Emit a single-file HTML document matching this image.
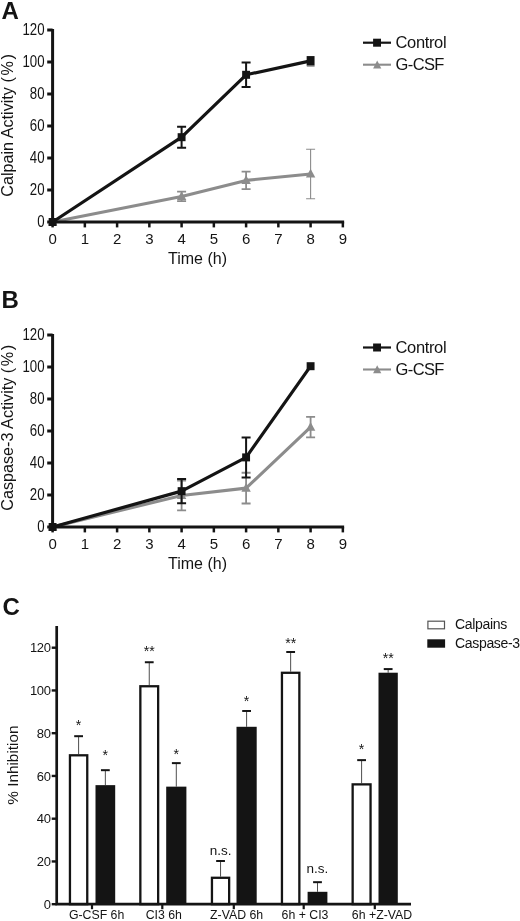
<!DOCTYPE html>
<html><head><meta charset="utf-8"><title>Figure</title>
<style>html,body{margin:0;padding:0;background:#fff}body{width:520px;height:921px;overflow:hidden;font-family:"Liberation Sans",sans-serif}svg{display:block;filter:blur(0.42px)}</style>
</head><body>
<svg width="520" height="921" viewBox="0 0 520 921">
<rect width="520" height="921" fill="#fff"/>
<text x="1.5" y="19" font-size="24" font-weight="bold" font-family="Liberation Sans, sans-serif" fill="#141414">A</text>
<polyline points="52.60,222.00 181.60,196.40 246.10,180.40 310.60,174.00" fill="none" stroke="#8c8c8c" stroke-width="3.1" stroke-linejoin="round"/>
<path d="M52.60 216.80L57.30 225.60H47.90Z" fill="#8c8c8c"/>
<path d="M181.60 191.60V201.20M177.10 191.60h9M177.10 201.20h9" stroke="#8c8c8c" stroke-width="1.8" fill="none"/>
<path d="M181.60 191.20L186.30 200.00H176.90Z" fill="#8c8c8c"/>
<path d="M246.10 171.60V189.20M241.60 171.60h9M241.60 189.20h9" stroke="#8c8c8c" stroke-width="1.8" fill="none"/>
<path d="M246.10 175.20L250.80 184.00H241.40Z" fill="#8c8c8c"/>
<path d="M310.60 149.20V198.80M306.10 149.20h9M306.10 198.80h9" stroke="#8c8c8c" stroke-width="1.1" fill="none"/>
<path d="M310.60 168.80L315.30 177.60H305.90Z" fill="#8c8c8c"/>
<polyline points="52.60,222.00 181.60,137.20 246.10,74.80 310.60,60.88" fill="none" stroke="#141414" stroke-width="3.2" stroke-linejoin="round"/>
<rect x="48.65" y="218.00" width="7.9" height="8" fill="#141414"/>
<path d="M181.60 126.64V147.76M177.10 126.64h9M177.10 147.76h9" stroke="#141414" stroke-width="2.0" fill="none"/>
<rect x="177.65" y="133.20" width="7.9" height="8" fill="#141414"/>
<path d="M246.10 62.48V87.12M241.60 62.48h9M241.60 87.12h9" stroke="#141414" stroke-width="2.0" fill="none"/>
<rect x="242.15" y="70.80" width="7.9" height="8" fill="#141414"/>
<rect x="306.65" y="56.08" width="7.9" height="9.6" fill="#141414"/>
<path d="M52.6 29.0V222H344.15" fill="none" stroke="#141414" stroke-width="3"/>
<path d="M47.20 222.0H52.6" stroke="#141414" stroke-width="3"/>
<text transform="translate(44.50,226.50) scale(0.85,1)" font-size="15.6" text-anchor="end" font-family="Liberation Sans, sans-serif" fill="#141414">0</text>
<path d="M47.20 190.0H52.6" stroke="#141414" stroke-width="3"/>
<text transform="translate(44.50,194.50) scale(0.85,1)" font-size="15.6" text-anchor="end" font-family="Liberation Sans, sans-serif" fill="#141414">20</text>
<path d="M47.20 158.0H52.6" stroke="#141414" stroke-width="3"/>
<text transform="translate(44.50,162.50) scale(0.85,1)" font-size="15.6" text-anchor="end" font-family="Liberation Sans, sans-serif" fill="#141414">40</text>
<path d="M47.20 126.0H52.6" stroke="#141414" stroke-width="3"/>
<text transform="translate(44.50,130.50) scale(0.85,1)" font-size="15.6" text-anchor="end" font-family="Liberation Sans, sans-serif" fill="#141414">60</text>
<path d="M47.20 94.0H52.6" stroke="#141414" stroke-width="3"/>
<text transform="translate(44.50,98.50) scale(0.85,1)" font-size="15.6" text-anchor="end" font-family="Liberation Sans, sans-serif" fill="#141414">80</text>
<path d="M47.20 62.0H52.6" stroke="#141414" stroke-width="3"/>
<text transform="translate(44.50,66.50) scale(0.85,1)" font-size="15.6" text-anchor="end" font-family="Liberation Sans, sans-serif" fill="#141414">100</text>
<path d="M47.20 30.0H52.6" stroke="#141414" stroke-width="3"/>
<text transform="translate(44.50,34.50) scale(0.85,1)" font-size="15.6" text-anchor="end" font-family="Liberation Sans, sans-serif" fill="#141414">120</text>
<path d="M52.60 222V227.4" stroke="#141414" stroke-width="2.5"/>
<text x="52.60" y="243.8" font-size="15" text-anchor="middle" font-family="Liberation Sans, sans-serif" fill="#141414">0</text>
<path d="M84.85 222V227.4" stroke="#141414" stroke-width="2.5"/>
<text x="84.85" y="243.8" font-size="15" text-anchor="middle" font-family="Liberation Sans, sans-serif" fill="#141414">1</text>
<path d="M117.10 222V227.4" stroke="#141414" stroke-width="2.5"/>
<text x="117.10" y="243.8" font-size="15" text-anchor="middle" font-family="Liberation Sans, sans-serif" fill="#141414">2</text>
<path d="M149.35 222V227.4" stroke="#141414" stroke-width="2.5"/>
<text x="149.35" y="243.8" font-size="15" text-anchor="middle" font-family="Liberation Sans, sans-serif" fill="#141414">3</text>
<path d="M181.60 222V227.4" stroke="#141414" stroke-width="2.5"/>
<text x="181.60" y="243.8" font-size="15" text-anchor="middle" font-family="Liberation Sans, sans-serif" fill="#141414">4</text>
<path d="M213.85 222V227.4" stroke="#141414" stroke-width="2.5"/>
<text x="213.85" y="243.8" font-size="15" text-anchor="middle" font-family="Liberation Sans, sans-serif" fill="#141414">5</text>
<path d="M246.10 222V227.4" stroke="#141414" stroke-width="2.5"/>
<text x="246.10" y="243.8" font-size="15" text-anchor="middle" font-family="Liberation Sans, sans-serif" fill="#141414">6</text>
<path d="M278.35 222V227.4" stroke="#141414" stroke-width="2.5"/>
<text x="278.35" y="243.8" font-size="15" text-anchor="middle" font-family="Liberation Sans, sans-serif" fill="#141414">7</text>
<path d="M310.60 222V227.4" stroke="#141414" stroke-width="2.5"/>
<text x="310.60" y="243.8" font-size="15" text-anchor="middle" font-family="Liberation Sans, sans-serif" fill="#141414">8</text>
<path d="M342.85 222V227.4" stroke="#141414" stroke-width="2.5"/>
<text x="342.85" y="243.8" font-size="15" text-anchor="middle" font-family="Liberation Sans, sans-serif" fill="#141414">9</text>
<text x="197.5" y="264.2" font-size="16" text-anchor="middle" font-family="Liberation Sans, sans-serif" fill="#141414">Time (h)</text>
<text transform="translate(13,196.8) rotate(-90)" font-size="16.2" font-family="Liberation Sans, sans-serif" fill="#141414">Calpain Activity <tspan letter-spacing="1.6">(%)</tspan></text>
<path d="M363 42.7H391" stroke="#141414" stroke-width="2.2"/><rect x="373.1" y="38.70" width="7.9" height="8" fill="#141414"/>
<text x="395.5" y="48.30" font-size="16.5" letter-spacing="-0.35" font-family="Liberation Sans, sans-serif" fill="#141414">Control</text>
<path d="M363 64.7H391" stroke="#8c8c8c" stroke-width="2.1"/><path d="M377.2 60.50L381.3 68.50H373.1Z" fill="#8c8c8c"/>
<text x="395.5" y="70.20" font-size="16.5" letter-spacing="-0.6" font-family="Liberation Sans, sans-serif" fill="#141414">G-CSF</text>
<path d="M306.8 66.3H314.6" stroke="#999" stroke-width="1.1"/>
<text x="1.5" y="308" font-size="24" font-weight="bold" font-family="Liberation Sans, sans-serif" fill="#141414">B</text>
<polyline points="52.60,527.00 181.60,495.48 246.10,488.12 310.60,427.16" fill="none" stroke="#8c8c8c" stroke-width="3.1" stroke-linejoin="round"/>
<path d="M52.60 521.80L57.30 530.60H47.90Z" fill="#8c8c8c"/>
<path d="M181.60 480.60V510.36M177.10 480.60h9M177.10 510.36h9" stroke="#8c8c8c" stroke-width="1.8" fill="none"/>
<path d="M181.60 490.28L186.30 499.08H176.90Z" fill="#8c8c8c"/>
<path d="M246.10 472.76V503.48M241.60 472.76h9M241.60 503.48h9" stroke="#8c8c8c" stroke-width="1.8" fill="none"/>
<path d="M246.10 482.92L250.80 491.72H241.40Z" fill="#8c8c8c"/>
<path d="M310.60 416.92V437.40M306.10 416.92h9M306.10 437.40h9" stroke="#8c8c8c" stroke-width="1.8" fill="none"/>
<path d="M310.60 421.96L315.30 430.76H305.90Z" fill="#8c8c8c"/>
<polyline points="52.60,527.00 181.60,491.16 246.10,457.40 310.60,366.20" fill="none" stroke="#141414" stroke-width="3.2" stroke-linejoin="round"/>
<rect x="48.65" y="523.00" width="7.9" height="8" fill="#141414"/>
<path d="M181.60 479.00V503.32M177.10 479.00h9M177.10 503.32h9" stroke="#141414" stroke-width="2.0" fill="none"/>
<rect x="177.65" y="487.16" width="7.9" height="8" fill="#141414"/>
<path d="M246.10 437.40V477.40M241.60 437.40h9M241.60 477.40h9" stroke="#141414" stroke-width="2.0" fill="none"/>
<rect x="242.15" y="453.40" width="7.9" height="8" fill="#141414"/>
<rect x="306.65" y="362.20" width="7.9" height="8" fill="#141414"/>
<path d="M52.6 334.0V527H344.15" fill="none" stroke="#141414" stroke-width="3"/>
<path d="M47.20 527.0H52.6" stroke="#141414" stroke-width="3"/>
<text transform="translate(44.50,531.50) scale(0.85,1)" font-size="15.6" text-anchor="end" font-family="Liberation Sans, sans-serif" fill="#141414">0</text>
<path d="M47.20 495.0H52.6" stroke="#141414" stroke-width="3"/>
<text transform="translate(44.50,499.50) scale(0.85,1)" font-size="15.6" text-anchor="end" font-family="Liberation Sans, sans-serif" fill="#141414">20</text>
<path d="M47.20 463.0H52.6" stroke="#141414" stroke-width="3"/>
<text transform="translate(44.50,467.50) scale(0.85,1)" font-size="15.6" text-anchor="end" font-family="Liberation Sans, sans-serif" fill="#141414">40</text>
<path d="M47.20 431.0H52.6" stroke="#141414" stroke-width="3"/>
<text transform="translate(44.50,435.50) scale(0.85,1)" font-size="15.6" text-anchor="end" font-family="Liberation Sans, sans-serif" fill="#141414">60</text>
<path d="M47.20 399.0H52.6" stroke="#141414" stroke-width="3"/>
<text transform="translate(44.50,403.50) scale(0.85,1)" font-size="15.6" text-anchor="end" font-family="Liberation Sans, sans-serif" fill="#141414">80</text>
<path d="M47.20 367.0H52.6" stroke="#141414" stroke-width="3"/>
<text transform="translate(44.50,371.50) scale(0.85,1)" font-size="15.6" text-anchor="end" font-family="Liberation Sans, sans-serif" fill="#141414">100</text>
<path d="M47.20 335.0H52.6" stroke="#141414" stroke-width="3"/>
<text transform="translate(44.50,339.50) scale(0.85,1)" font-size="15.6" text-anchor="end" font-family="Liberation Sans, sans-serif" fill="#141414">120</text>
<path d="M52.60 527V532.4" stroke="#141414" stroke-width="2.5"/>
<text x="52.60" y="548.8" font-size="15" text-anchor="middle" font-family="Liberation Sans, sans-serif" fill="#141414">0</text>
<path d="M84.85 527V532.4" stroke="#141414" stroke-width="2.5"/>
<text x="84.85" y="548.8" font-size="15" text-anchor="middle" font-family="Liberation Sans, sans-serif" fill="#141414">1</text>
<path d="M117.10 527V532.4" stroke="#141414" stroke-width="2.5"/>
<text x="117.10" y="548.8" font-size="15" text-anchor="middle" font-family="Liberation Sans, sans-serif" fill="#141414">2</text>
<path d="M149.35 527V532.4" stroke="#141414" stroke-width="2.5"/>
<text x="149.35" y="548.8" font-size="15" text-anchor="middle" font-family="Liberation Sans, sans-serif" fill="#141414">3</text>
<path d="M181.60 527V532.4" stroke="#141414" stroke-width="2.5"/>
<text x="181.60" y="548.8" font-size="15" text-anchor="middle" font-family="Liberation Sans, sans-serif" fill="#141414">4</text>
<path d="M213.85 527V532.4" stroke="#141414" stroke-width="2.5"/>
<text x="213.85" y="548.8" font-size="15" text-anchor="middle" font-family="Liberation Sans, sans-serif" fill="#141414">5</text>
<path d="M246.10 527V532.4" stroke="#141414" stroke-width="2.5"/>
<text x="246.10" y="548.8" font-size="15" text-anchor="middle" font-family="Liberation Sans, sans-serif" fill="#141414">6</text>
<path d="M278.35 527V532.4" stroke="#141414" stroke-width="2.5"/>
<text x="278.35" y="548.8" font-size="15" text-anchor="middle" font-family="Liberation Sans, sans-serif" fill="#141414">7</text>
<path d="M310.60 527V532.4" stroke="#141414" stroke-width="2.5"/>
<text x="310.60" y="548.8" font-size="15" text-anchor="middle" font-family="Liberation Sans, sans-serif" fill="#141414">8</text>
<path d="M342.85 527V532.4" stroke="#141414" stroke-width="2.5"/>
<text x="342.85" y="548.8" font-size="15" text-anchor="middle" font-family="Liberation Sans, sans-serif" fill="#141414">9</text>
<text x="197.5" y="569.2" font-size="16" text-anchor="middle" font-family="Liberation Sans, sans-serif" fill="#141414">Time (h)</text>
<text transform="translate(13,510.8) rotate(-90)" font-size="16.2" font-family="Liberation Sans, sans-serif" fill="#141414">Caspase-3 Activity <tspan letter-spacing="1.6">(%)</tspan></text>
<path d="M363 347.5H391" stroke="#141414" stroke-width="2.2"/><rect x="373.1" y="343.50" width="7.9" height="8" fill="#141414"/>
<text x="395.5" y="353.10" font-size="16.5" letter-spacing="-0.35" font-family="Liberation Sans, sans-serif" fill="#141414">Control</text>
<path d="M363 369.5H391" stroke="#8c8c8c" stroke-width="2.1"/><path d="M377.2 365.30L381.3 373.30H373.1Z" fill="#8c8c8c"/>
<text x="395.5" y="375.00" font-size="16.5" letter-spacing="-0.6" font-family="Liberation Sans, sans-serif" fill="#141414">G-CSF</text>
<text x="2.5" y="614.7" font-size="24" font-weight="bold" font-family="Liberation Sans, sans-serif" fill="#141414">C</text>
<path d="M78.60 754.15V736.19" stroke="#444" stroke-width="0.95" fill="none"/>
<path d="M74.20 736.19h8.8" stroke="#141414" stroke-width="2" fill="none"/>
<rect x="69.95" y="755.30" width="17.30" height="148.90" fill="#fff" stroke="#141414" stroke-width="2.3"/>
<text x="78.60" y="729.8" font-size="14.2" text-anchor="middle" font-family="Liberation Sans, sans-serif" fill="#141414">*</text>
<path d="M105.35 785.14V770.18" stroke="#444" stroke-width="0.95" fill="none"/>
<path d="M100.95 770.18h8.8" stroke="#141414" stroke-width="2" fill="none"/>
<rect x="95.50" y="785.14" width="19.70" height="119.06" fill="#141414"/>
<text x="105.35" y="760.3" font-size="14.2" text-anchor="middle" font-family="Liberation Sans, sans-serif" fill="#141414">*</text>
<path d="M149.25 685.11V662.24" stroke="#444" stroke-width="0.95" fill="none"/>
<path d="M144.85 662.24h8.8" stroke="#141414" stroke-width="2" fill="none"/>
<rect x="140.35" y="686.26" width="17.80" height="217.94" fill="#fff" stroke="#141414" stroke-width="2.3"/>
<text x="149.25" y="656.3" font-size="14.2" text-anchor="middle" font-family="Liberation Sans, sans-serif" fill="#141414">**</text>
<path d="M176.30 786.64V763.12" stroke="#444" stroke-width="0.95" fill="none"/>
<path d="M171.90 763.12h8.8" stroke="#141414" stroke-width="2" fill="none"/>
<rect x="166.20" y="786.64" width="20.20" height="117.56" fill="#141414"/>
<text x="176.30" y="759.3" font-size="14.2" text-anchor="middle" font-family="Liberation Sans, sans-serif" fill="#141414">*</text>
<path d="M220.55 876.63V861.02" stroke="#444" stroke-width="0.95" fill="none"/>
<path d="M216.15 861.02h8.8" stroke="#141414" stroke-width="2" fill="none"/>
<rect x="211.95" y="877.78" width="17.20" height="26.42" fill="#fff" stroke="#141414" stroke-width="2.3"/>
<text x="220.55" y="855.2" font-size="13.5" text-anchor="middle" font-family="Liberation Sans, sans-serif" fill="#141414">n.s.</text>
<path d="M246.60 726.79V710.97" stroke="#444" stroke-width="0.95" fill="none"/>
<path d="M242.20 710.97h8.8" stroke="#141414" stroke-width="2" fill="none"/>
<rect x="236.50" y="726.79" width="20.20" height="177.41" fill="#141414"/>
<text x="246.60" y="706.3" font-size="14.2" text-anchor="middle" font-family="Liberation Sans, sans-serif" fill="#141414">*</text>
<path d="M290.65 671.64V651.98" stroke="#444" stroke-width="0.95" fill="none"/>
<path d="M286.25 651.98h8.8" stroke="#141414" stroke-width="2" fill="none"/>
<rect x="281.95" y="672.79" width="17.40" height="231.41" fill="#fff" stroke="#141414" stroke-width="2.3"/>
<text x="290.65" y="647.8" font-size="14.2" text-anchor="middle" font-family="Liberation Sans, sans-serif" fill="#141414">**</text>
<path d="M317.50 891.80V882.18" stroke="#444" stroke-width="0.95" fill="none"/>
<path d="M313.10 882.18h8.8" stroke="#141414" stroke-width="2" fill="none"/>
<rect x="307.60" y="891.80" width="19.80" height="12.40" fill="#141414"/>
<text x="317.50" y="872.7" font-size="13.5" text-anchor="middle" font-family="Liberation Sans, sans-serif" fill="#141414">n.s.</text>
<path d="M361.60 783.22V760.13" stroke="#444" stroke-width="0.95" fill="none"/>
<path d="M357.20 760.13h8.8" stroke="#141414" stroke-width="2" fill="none"/>
<rect x="352.65" y="784.37" width="17.90" height="119.83" fill="#fff" stroke="#141414" stroke-width="2.3"/>
<text x="361.60" y="753.8" font-size="14.2" text-anchor="middle" font-family="Liberation Sans, sans-serif" fill="#141414">*</text>
<path d="M388.15 672.71V669.08" stroke="#444" stroke-width="0.95" fill="none"/>
<path d="M383.75 669.08h8.8" stroke="#141414" stroke-width="2" fill="none"/>
<rect x="378.50" y="672.71" width="19.30" height="231.49" fill="#141414"/>
<text x="388.15" y="662.8" font-size="14.2" text-anchor="middle" font-family="Liberation Sans, sans-serif" fill="#141414">**</text>
<path d="M56.7 626V904.2H411" fill="none" stroke="#141414" stroke-width="2.7"/>
<path d="M51.70 904.20H56.7" stroke="#141414" stroke-width="2.4"/>
<text x="50.7" y="908.90" font-size="13" letter-spacing="-0.3" text-anchor="end" font-family="Liberation Sans, sans-serif" fill="#141414">0</text>
<path d="M51.70 861.45H56.7" stroke="#141414" stroke-width="2.4"/>
<text x="50.7" y="866.15" font-size="13" letter-spacing="-0.3" text-anchor="end" font-family="Liberation Sans, sans-serif" fill="#141414">20</text>
<path d="M51.70 818.70H56.7" stroke="#141414" stroke-width="2.4"/>
<text x="50.7" y="823.40" font-size="13" letter-spacing="-0.3" text-anchor="end" font-family="Liberation Sans, sans-serif" fill="#141414">40</text>
<path d="M51.70 775.95H56.7" stroke="#141414" stroke-width="2.4"/>
<text x="50.7" y="780.65" font-size="13" letter-spacing="-0.3" text-anchor="end" font-family="Liberation Sans, sans-serif" fill="#141414">60</text>
<path d="M51.70 733.20H56.7" stroke="#141414" stroke-width="2.4"/>
<text x="50.7" y="737.90" font-size="13" letter-spacing="-0.3" text-anchor="end" font-family="Liberation Sans, sans-serif" fill="#141414">80</text>
<path d="M51.70 690.45H56.7" stroke="#141414" stroke-width="2.4"/>
<text x="50.7" y="695.15" font-size="13" letter-spacing="-0.3" text-anchor="end" font-family="Liberation Sans, sans-serif" fill="#141414">100</text>
<path d="M51.70 647.70H56.7" stroke="#141414" stroke-width="2.4"/>
<text x="50.7" y="652.40" font-size="13" letter-spacing="-0.3" text-anchor="end" font-family="Liberation Sans, sans-serif" fill="#141414">120</text>
<path d="M92 904.2V909.2" stroke="#141414" stroke-width="2.2"/>
<text x="96.6" y="919.2" font-size="12.3" text-anchor="middle" font-family="Liberation Sans, sans-serif" fill="#141414">G-CSF 6h</text>
<path d="M162.3 904.2V909.2" stroke="#141414" stroke-width="2.2"/>
<text x="163.8" y="919.2" font-size="12.3" text-anchor="middle" font-family="Liberation Sans, sans-serif" fill="#141414">CI3 6h</text>
<path d="M233.8 904.2V909.2" stroke="#141414" stroke-width="2.2"/>
<text x="236.6" y="919.2" font-size="12.3" text-anchor="middle" font-family="Liberation Sans, sans-serif" fill="#141414">Z-VAD 6h</text>
<path d="M303.7 904.2V909.2" stroke="#141414" stroke-width="2.2"/>
<text x="305" y="919.2" font-size="12.3" text-anchor="middle" font-family="Liberation Sans, sans-serif" fill="#141414">6h + CI3</text>
<path d="M374.8 904.2V909.2" stroke="#141414" stroke-width="2.2"/>
<text x="382" y="919.2" font-size="12.3" text-anchor="middle" font-family="Liberation Sans, sans-serif" fill="#141414">6h +Z-VAD</text>
<text transform="translate(18.4,765.1) rotate(-90)" font-size="15.3" text-anchor="middle" font-family="Liberation Sans, sans-serif" fill="#141414">% Inhibition</text>
<rect x="427.9" y="621.2" width="16.6" height="7.6" fill="#fff" stroke="#555" stroke-width="1.2"/>
<text x="455" y="629.3" font-size="14.05" letter-spacing="-0.35" font-family="Liberation Sans, sans-serif" fill="#141414">Calpains</text>
<rect x="427.3" y="639.3" width="17.8" height="8.4" fill="#141414"/>
<text x="455" y="647.7" font-size="14.05" letter-spacing="-0.35" font-family="Liberation Sans, sans-serif" fill="#141414">Caspase-3</text>
</svg>
</body></html>
